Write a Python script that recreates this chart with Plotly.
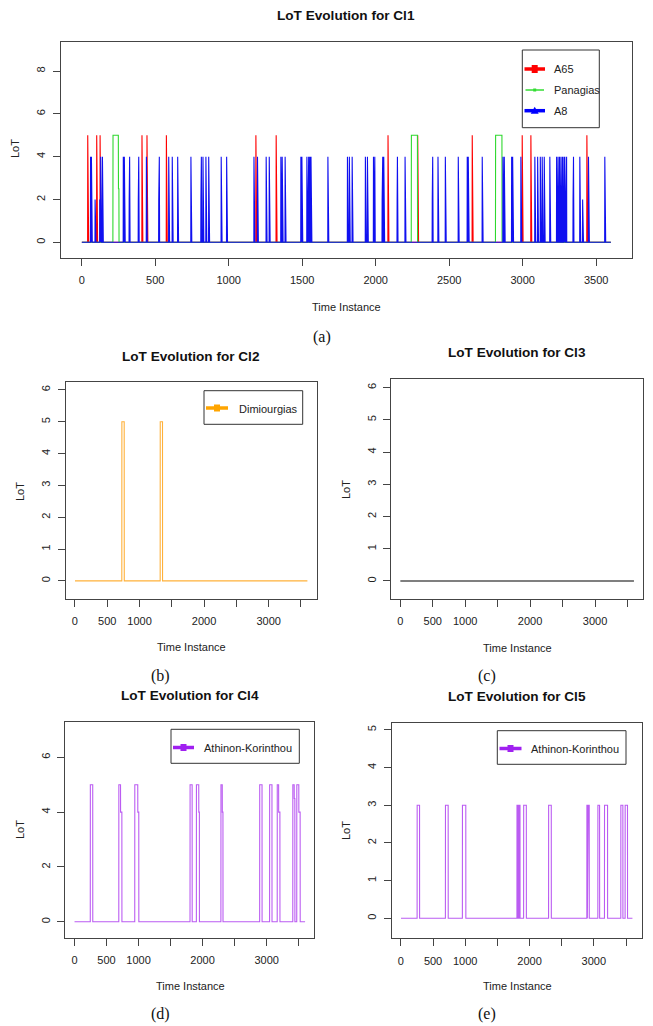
import numpy as np
import plotly.graph_objects as go

# page is shown in a 653x1026 window; the html body has an 8px margin
PAGE_W, PAGE_H = 653, 1026
BODY = 8
W, H = PAGE_W - BODY, PAGE_H - BODY
T_END = 3600
time = np.arange(1, T_END + 1)

# ---------------- data ----------------
# Panel (a)  CI1
a65_t = [41, 102, 125, 410, 444, 576, 1185, 1323, 2084, 2286, 2657, 2997, 3056, 3437]
a65_v = [5] * len(a65_t)

panagias_start = [213, 250, 2243, 2816]
panagias_end = [249, 253, 2284, 2859]
panagias_level = [5, 2.5, 5, 5]

a8_t = [66, 129, 141, 283, 290, 326, 388, 440, 528, 592, 616, 653, 743, 814, 825, 845, 864,
        949, 986, 1172, 1196, 1255, 1276, 1355, 1364, 1384, 1491, 1498,
        1532, 1536, 1540, 1544, 1548, 1552, 1556, 1560, 1563,
        1675, 1808, 1821, 1840, 1930, 1944, 1985, 1994, 2048, 2055, 2148, 2200,
        2388, 2424, 2474, 2562, 2623, 2630, 2725, 2866, 2875, 2925, 2932, 2988,
        3083, 3102, 3120, 3133, 3147, 3185,
        3231, 3236, 3241, 3246, 3251, 3256, 3261, 3266, 3271, 3276, 3281, 3287,
        3299, 3346, 3389, 3448, 3559,
        60, 91, 123, 323, 385, 524, 620, 811, 1201, 1280, 1546, 2044, 2146, 2385,
        3233, 3296, 3343, 3408]
a8_v = [4] * 85 + [2] * 18

# Panel (b)  CI2
dim_start = [727, 1321]
dim_end = [763, 1356]
dim_level = [5, 5]

# Panel (c)  CI3 : no events
ci3_level = 0

# Panel (d)  CI4
ak4_start = [248, 693, 720, 942, 989, 1805, 1904, 1941, 2287, 2308, 2892, 3047,
             3166, 3188, 3409, 3431, 3471, 3503]
ak4_end = [285, 719, 740, 988, 1004, 1837, 1940, 1950, 2307, 2318, 2928, 3083,
           3187, 3207, 3430, 3440, 3502, 3523]
ak4_level = [5, 5, 4, 5, 4, 5, 5, 4, 5, 4, 5, 5, 5, 4, 5, 4.5, 5, 4]

# Panel (e)  CI5
ak5_start = [253, 693, 957, 1805, 1818, 1830, 1842, 1909, 2297, 2892, 2902, 3063, 3166, 3420, 3487]
ak5_end = [290, 735, 1009, 1812, 1824, 1836, 1852, 1950, 2338, 2898, 2928, 3089, 3213, 3451, 3523]
ak5_level = [3] * 15

x_ticks = [0, 500, 1000, 1500, 2000, 2500, 3000, 3500]
x_text_wide = ["0", "500", "1000", "1500", "2000", "2500", "3000", "3500"]
x_text_narrow = ["0", "500", "1000", "", "2000", "", "3000", ""]


def from_spikes(ts, vs):
    y = np.zeros(T_END)
    for t, v in zip(ts, vs):
        y[t - 1] = v
    return y


def from_pulses(starts, ends, levels):
    y = np.zeros(T_END)
    for s, e, v in zip(starts, ends, levels):
        y[s - 1:e] = v
    return y


# ---------------- figure ----------------
fig = go.Figure()
FONT = "Liberation Sans, Arial, sans-serif"


def px(x):
    return (x - BODY) / W


def py(y):
    return 1 - (y - BODY) / H


traces = [
    (from_spikes(a65_t, a65_v), "#ff0000", "x", "y"),
    (from_pulses(panagias_start, panagias_end, panagias_level), "#2ed82e", "x", "y"),
    (from_spikes(a8_t, a8_v), "#1010f0", "x", "y"),
    (from_pulses(dim_start, dim_end, dim_level), "#ffb13a", "x2", "y2"),
    (np.full(T_END, ci3_level, dtype=float), "#000000", "x3", "y3"),
    (from_pulses(ak4_start, ak4_end, ak4_level), "#bb5cf2", "x4", "y4"),
    (from_pulses(ak5_start, ak5_end, ak5_level), "#bb5cf2", "x5", "y5"),
]
for y, c, xa, ya in traces:
    fig.add_trace(go.Scatter(x=time, y=y, mode="lines", line=dict(color=c, width=1.1),
                             xaxis=xa, yaxis=ya, showlegend=False, hoverinfo="skip"))

panels = [
    # (x0, x1, ytop, ybottom, yrange, yticks, xtext)
    (60.7, 632.0, 41.7, 257.7, [-0.72, 9.37], [0, 2, 4, 6, 8], x_text_wide),
    (65.7, 316.7, 382.3, 599.0, [-0.57, 6.24], [0, 1, 2, 3, 4, 5, 6], x_text_narrow),
    (391.0, 643.3, 379.0, 599.0, [-0.56, 6.27], [0, 1, 2, 3, 4, 5, 6], x_text_narrow),
    (65.3, 314.3, 721.7, 937.7, [-0.58, 7.30], [0, 2, 4, 6], x_text_narrow),
    (391.7, 641.7, 722.7, 938.3, [-0.53, 5.19], [0, 1, 2, 3, 4, 5], x_text_narrow),
]
AX = "#444444"
layout = {}
for i, (x0, x1, yt, yb, yr, yt_vals, xtext) in enumerate(panels):
    s = "" if i == 0 else str(i + 1)
    layout["xaxis" + s] = dict(
        domain=[px(x0), px(x1)], range=[-143, 3744], anchor="y" + s,
        tickvals=x_ticks, ticktext=xtext, ticks="outside", ticklen=7, tickcolor=AX,
        showline=True, linecolor=AX, linewidth=1, mirror=True,
        showgrid=False, zeroline=False, ticklabelstandoff=5,
        tickfont=dict(family=FONT, size=11, color="#222"))
    layout["yaxis" + s] = dict(
        domain=[py(yb), py(yt)], range=yr, anchor="x" + s,
        tickvals=yt_vals, ticks="outside", ticklen=7, tickcolor=AX, tickangle=-90,
        showline=True, linecolor=AX, linewidth=1, mirror=True,
        showgrid=False, zeroline=False, ticklabelstandoff=3,
        tickfont=dict(family=FONT, size=11, color="#222"))

ann = []


def text(x, y, t, size=11, bold=False, angle=0, anchor="center", family=FONT, color="#222"):
    ann.append(dict(x=px(x), y=py(y), xref="paper", yref="paper", text=("<b>%s</b>" % t if bold else t),
                    showarrow=False, xanchor=anchor, yanchor="middle", textangle=angle,
                    font=dict(family=family, size=size, color=color)))


titles = [("LoT Evolution for Cl1", 346, 15), ("LoT Evolution for Cl2", 191, 356),
          ("LoT Evolution for Cl3", 517, 353), ("LoT Evolution for Cl4", 190, 695),
          ("LoT Evolution for Cl5", 517, 696)]
for t, x, y in titles:
    text(x, y, t, size=13.6, bold=True, color="#111")

ylabels = [(15, 149), (20, 492), (346, 490), (20, 830), (346, 831)]
for x, y in ylabels:
    text(x, y, "LoT", angle=-90)
xlabels = [(346, 307), (191, 647), (517, 648), (190, 986), (517, 986)]
for x, y in xlabels:
    text(x, y, "Time Instance")

SERIF = "Liberation Serif, Times New Roman, serif"
for t, x, y in [("(a)", 322, 337), ("(b)", 160, 676), ("(c)", 487, 676), ("(d)", 160, 1014), ("(e)", 487, 1014)]:
    text(x, y, t, size=16, family=SERIF, color="#111")

shapes = []


def rect(x0, y0, x1, y1, line="#333", fill=None, w=1):
    shapes.append(dict(type="rect", xref="paper", yref="paper", x0=px(x0), x1=px(x1), y0=py(y1), y1=py(y0),
                       line=dict(color=line, width=w), fillcolor=fill, layer="above"))


def seg(x0, x1, y, color, w):
    shapes.append(dict(type="line", xref="paper", yref="paper", x0=px(x0), x1=px(x1), y0=py(y), y1=py(y),
                       line=dict(color=color, width=w), layer="above"))


def square(cx, cy, wdt, hgt, color):
    shapes.append(dict(type="rect", xref="paper", yref="paper", x0=px(cx - wdt / 2), x1=px(cx + wdt / 2),
                       y0=py(cy + hgt / 2), y1=py(cy - hgt / 2), line=dict(width=0), fillcolor=color,
                       layer="above"))


def triangle(cx, cy, wdt, hgt, color):
    p = "M %f %f L %f %f L %f %f Z" % (px(cx - wdt / 2), py(cy + hgt / 2), px(cx + wdt / 2), py(cy + hgt / 2),
                                      px(cx), py(cy - hgt / 2))
    shapes.append(dict(type="path", xref="paper", yref="paper", path=p, line=dict(width=0), fillcolor=color,
                       layer="above"))


# legend (a)
rect(522.3, 50, 599.3, 127.7)
seg(524.5, 545, 69, "#ff0000", 3.5)
square(534.7, 69, 6, 8, "#ff0000")
text(551.5, 69, "A65", anchor="left")
seg(525.5, 544, 90, "#33dd33", 1.5)
square(534.7, 90, 3, 3, "#33dd33")
text(551.5, 90, "Panagias", anchor="left")
seg(524.5, 545, 110.7, "#0000ff", 3.5)
triangle(534.7, 110.2, 8, 7, "#0000ff")
text(551.5, 110.7, "A8", anchor="left")

# legend (b)
rect(204, 390.7, 302.7, 424.3)
seg(206, 228, 408, "#ffa500", 3.5)
square(217, 408, 6, 7, "#ffa500")
text(236.5, 409, "Dimiourgias", anchor="left")

# legend (d)
rect(171, 729.3, 299.3, 763.3)
seg(173, 194, 747.5, "#a020f0", 3.5)
square(183.5, 747.5, 6, 7, "#a020f0")
text(202, 748.3, "Athinon-Korinthou", anchor="left")

# legend (e)
rect(497.3, 730.7, 626, 764.3)
seg(499.5, 521.5, 748.5, "#a020f0", 3.5)
square(510.5, 748.5, 6, 7, "#a020f0")
text(528.5, 749, "Athinon-Korinthou", anchor="left")

fig.update_layout(
    width=W, height=H, margin=dict(l=0, r=0, t=0, b=0),
    paper_bgcolor="white", plot_bgcolor="white",
    annotations=ann, shapes=shapes, **layout)

fig.write_html("out.html")
